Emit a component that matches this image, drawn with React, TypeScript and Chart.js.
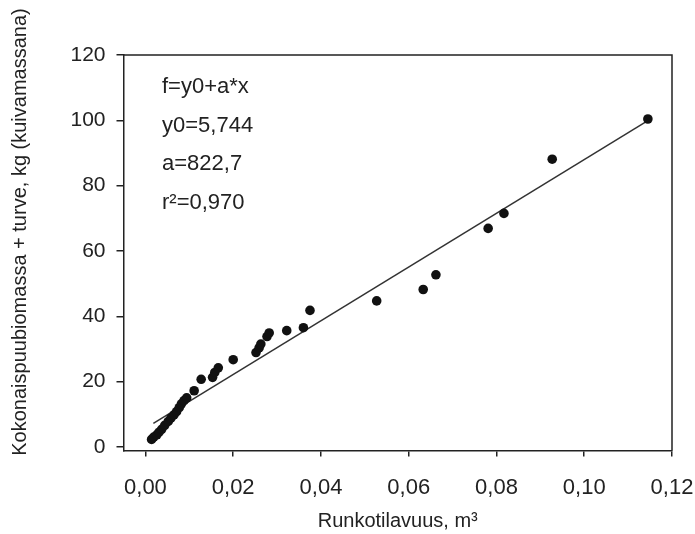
import React, { useEffect, useRef } from "react";
import { Chart, registerables } from "chart.js";

Chart.register(...registerables);

// Stem volume (m³) of each sample tree
const volume = [
  0.0014, 0.0019, 0.0026, 0.0031, 0.0037, 0.0044, 0.0052, 0.0058, 0.0065, 0.0071,
  0.0077, 0.0082, 0.0088, 0.0094, 0.0111, 0.0127, 0.0153, 0.0158, 0.0166, 0.02,
  0.0252, 0.0259, 0.0263, 0.0277, 0.0282, 0.0322, 0.036, 0.0375, 0.0527, 0.0633,
  0.0662, 0.0781, 0.0817, 0.0927, 0.1145,
];
// Total wood biomass + peat, kg dry mass
const biomass = [
  2.3, 3.0, 3.7, 4.5, 5.4, 6.6, 7.8, 8.8, 9.8, 10.8,
  12.0, 13.2, 14.2, 15.0, 17.2, 20.7, 21.3, 22.8, 24.2, 26.7,
  28.9, 30.3, 31.5, 33.8, 34.9, 35.6, 36.5, 41.8, 44.7, 48.2,
  52.7, 66.9, 71.5, 88.1, 100.4,
];
// Regression line end points (f = y0 + a*x)
const fitX = [0.0018, 0.1145];
const fitY = [7.2, 99.9];

const xTickValues = [0, 0.02, 0.04, 0.06, 0.08, 0.1, 0.12];
const yTickValues = [0, 20, 40, 60, 80, 100, 120];
const equationLines = ["f=y0+a*x", "y0=5,744", "a=822,7", "r²=0,970"];
const xTitle = "Runkotilavuus, m³";
const yTitle = "Kokonaispuubiomassa + turve, kg (kuivamassana)";

const FONT = '"Liberation Sans", Arial, sans-serif';
const INK = "#222";

export default function App() {
  const ref = useRef<HTMLCanvasElement | null>(null);

  useEffect(() => {
    const canvas = ref.current;
    if (!canvas) return;

    const deco = {
      id: "deco",
      afterDraw(chart: any) {
        const { ctx, chartArea: a } = chart;
        ctx.save();
        ctx.strokeStyle = INK;
        ctx.lineWidth = 1.5;
        ctx.beginPath();
        ctx.moveTo(a.left, a.top);
        ctx.lineTo(a.right, a.top);
        ctx.lineTo(a.right, a.bottom);
        ctx.stroke();

        ctx.fillStyle = INK;
        ctx.textBaseline = "middle";
        ctx.textAlign = "left";
        ctx.font = `22px ${FONT}`;
        equationLines.forEach((t, i) => ctx.fillText(t, 162, 87 + i * 38.7));

        ctx.font = `20px ${FONT}`;
        ctx.textAlign = "center";
        ctx.fillText(xTitle, (a.left + a.right) / 2, 521);

        ctx.translate(20, 232);
        ctx.rotate(-Math.PI / 2);
        ctx.fillText(yTitle, 0, 0);
        ctx.restore();
      },
    };

    const chart = new Chart(canvas, {
      type: "scatter",
      data: {
        datasets: [
          {
            label: "data",
            data: volume.map((v, i) => ({ x: v, y: biomass[i] })),
            backgroundColor: "#111",
            borderWidth: 0,
            pointRadius: 4.8,
          },
          {
            label: "fit",
            data: fitX.map((v, i) => ({ x: v, y: fitY[i] })),
            showLine: true,
            borderColor: "#333",
            borderWidth: 1.5,
            pointRadius: 0,
          },
        ],
      },
      options: {
        animation: false,
        responsive: false,
        devicePixelRatio: 1,
        layout: { padding: { top: 55, right: 23, left: 0, bottom: 0 } },
        plugins: { legend: { display: false }, tooltip: { enabled: false } },
        scales: {
          x: {
            type: "linear",
            min: -0.005,
            max: 0.12,
            afterBuildTicks: (s: any) => {
              s.ticks = xTickValues.map((v) => ({ value: v }));
            },
            afterFit: (s: any) => {
              s.height = 83.5;
              s.paddingLeft = 0;
              s.paddingRight = 0;
            },
            ticks: {
              callback: (v: any) => Number(v).toFixed(2).replace(".", ","),
              font: { size: 22, family: FONT },
              color: INK,
              padding: 18,
              maxRotation: 0,
              autoSkip: false,
            },
            grid: {
              drawOnChartArea: false,
              drawTicks: true,
              tickLength: 6,
              color: INK,
              lineWidth: 1.5,
            },
            border: { display: true, color: INK, width: 1.5 },
          },
          y: {
            type: "linear",
            min: -1.1,
            max: 120,
            afterBuildTicks: (s: any) => {
              s.ticks = yTickValues.map((v) => ({ value: v }));
            },
            afterFit: (s: any) => {
              s.width = 123.5;
              s.paddingTop = 0;
              s.paddingBottom = 0;
            },
            ticks: {
              font: { size: 21, family: FONT },
              color: INK,
              padding: 11,
              autoSkip: false,
            },
            grid: {
              drawOnChartArea: false,
              drawTicks: true,
              tickLength: 7,
              color: INK,
              lineWidth: 1.5,
            },
            border: { display: true, color: INK, width: 1.5 },
          },
        },
      },
      plugins: [deco],
    });

    return () => chart.destroy();
  }, []);

  return (
    <div style={{ position: "absolute", left: 0, top: 0, width: 695, height: 534, background: "#fff" }}>
      <canvas ref={ref} width={695} height={534} />
    </div>
  );
}
